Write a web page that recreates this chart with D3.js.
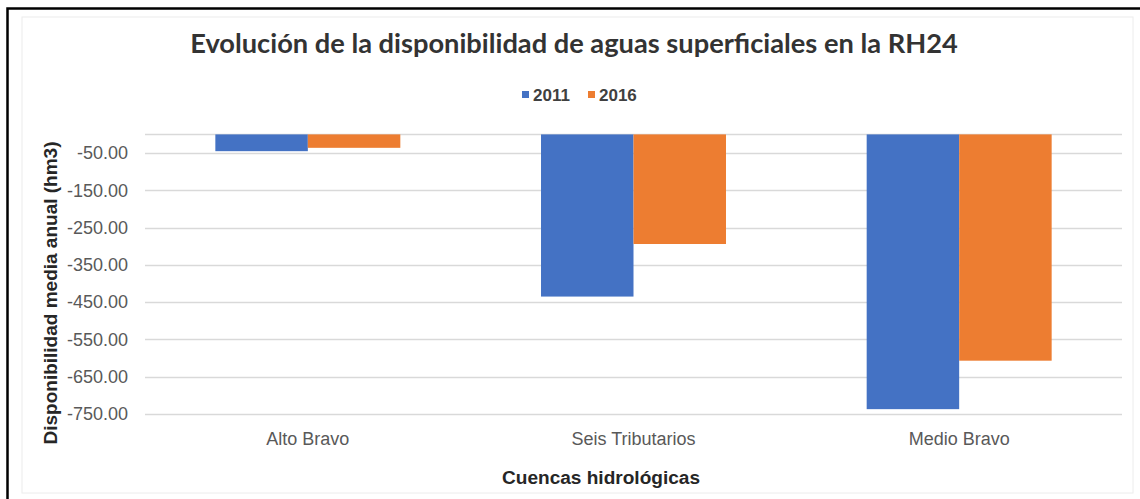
<!DOCTYPE html>
<html>
<head>
<meta charset="utf-8">
<script src="https://cdn.jsdelivr.net/npm/d3@7"></script>
<style>
  body { margin: 0; background: #fff; }
  svg { display: block; }
</style>
</head>
<body>
<svg id="chart" width="1140" height="499"></svg>
<script>
// cuencas y series (hm3)
var cuencas = ["Alto Bravo", "Seis Tributarios", "Medio Bravo"];
var anios = ["2011", "2016"];
var valores2011 = [-45, -435, -737];
var valores2016 = [-36, -294, -607];
var yTicks = [-50, -150, -250, -350, -450, -550, -650, -750];
var colores = ["#4472C4", "#ED7D31"];

var series = [valores2011, valores2016];

var svg = d3.select("#chart");

// marco
svg.append("rect").attr("x", 22).attr("y", 17).attr("width", 1111).attr("height", 476)
  .attr("fill", "none").attr("stroke", "#ececec").attr("stroke-width", 1);
svg.append("rect").attr("x", 7.5).attr("y", 8.5).attr("width", 1200).attr("height", 600)
  .attr("fill", "none").attr("stroke", "#000").attr("stroke-width", 2.5);

var x0 = d3.scaleBand().domain(cuencas).range([145, 1122]).paddingInner(0.432).paddingOuter(0.216);
var x1 = d3.scaleBand().domain(anios).range([0, x0.bandwidth()]);
var y = d3.scaleLinear().domain([-750, 0]).range([414, 134.4]);

// lineas de cuadricula
svg.append("g").selectAll("line")
  .data([0].concat(yTicks))
  .enter().append("line")
  .attr("x1", 145).attr("x2", 1122)
  .attr("y1", function(d) { return Math.round(y(d)) + 0.5; })
  .attr("y2", function(d) { return Math.round(y(d)) + 0.5; })
  .attr("stroke", "#d9d9d9").attr("stroke-width", 1.5);

// eje y (guion normal, no signo menos unicode)
var fmt = d3.format(".2f");
var yAxis = svg.append("g")
  .attr("transform", "translate(135,0)")
  .call(d3.axisLeft(y).tickValues(yTicks).tickSize(0).tickPadding(7)
    .tickFormat(function(d) { return fmt(d).replace("\u2212", "-"); }));
yAxis.select(".domain").remove();
yAxis.selectAll("text")
  .attr("font-family", "Liberation Sans, Arial, sans-serif")
  .attr("font-size", 18).attr("fill", "#595959");

// barras
var grupos = svg.append("g").selectAll("g")
  .data(cuencas)
  .enter().append("g")
  .attr("transform", function(d) { return "translate(" + x0(d) + ",0)"; });

grupos.selectAll("rect")
  .data(function(d, i) { return anios.map(function(a, j) { return { anio: a, v: series[j][i], j: j }; }); })
  .enter().append("rect")
  .attr("x", function(d) { return x1(d.anio); })
  .attr("width", x1.bandwidth())
  .attr("y", y(0))
  .attr("height", function(d) { return y(d.v) - y(0); })
  .attr("fill", function(d) { return colores[d.j]; });

// eje x
var xAxis = svg.append("g")
  .attr("transform", "translate(0,420)")
  .call(d3.axisBottom(x0).tickSize(0).tickPadding(12));
xAxis.select(".domain").remove();
xAxis.selectAll("text")
  .attr("font-family", "Liberation Sans, Arial, sans-serif")
  .attr("font-size", 18).attr("fill", "#595959");

// titulo
var titulo = svg.append("text")
  .attr("x", 574).attr("y", 53)
  .attr("text-anchor", "middle")
  .attr("font-family", "Lato, Open Sans, sans-serif")
  .attr("font-weight", "bold")
  .attr("font-size", 26)
  .attr("fill", "#333")
  .text("Evolución de la disponibilidad de aguas superficiales en la RH24");
var w = titulo.node().getComputedTextLength();
titulo.attr("font-size", 26 * 768 / w);

// leyenda
var leyenda = svg.append("g").selectAll("g")
  .data(anios)
  .enter().append("g")
  .attr("transform", function(d, i) { return "translate(" + (522 + i * 66) + ",95)"; });
leyenda.append("rect").attr("x", 0).attr("y", -4).attr("width", 7).attr("height", 7)
  .attr("fill", function(d, i) { return colores[i]; });
leyenda.append("text").attr("x", 11).attr("y", 6)
  .attr("font-family", "Liberation Sans, Arial, sans-serif")
  .attr("font-weight", "bold").attr("font-size", 17).attr("fill", "#404040")
  .text(function(d) { return d; });

// titulos de ejes
svg.append("text")
  .attr("x", 601).attr("y", 484)
  .attr("text-anchor", "middle")
  .attr("font-family", "Liberation Sans, Arial, sans-serif")
  .attr("font-weight", "bold").attr("font-size", 18).attr("fill", "#262626")
  .attr("textLength", 198).attr("lengthAdjust", "spacingAndGlyphs")
  .text("Cuencas hidrológicas");

svg.append("text")
  .attr("transform", "translate(57,293) rotate(-90)")
  .attr("text-anchor", "middle")
  .attr("font-family", "Liberation Sans, Arial, sans-serif")
  .attr("font-weight", "bold").attr("font-size", 18).attr("fill", "#262626")
  .attr("textLength", 303).attr("lengthAdjust", "spacingAndGlyphs")
  .text("Disponibilidad media anual (hm3)");
</script>
</body>
</html>
